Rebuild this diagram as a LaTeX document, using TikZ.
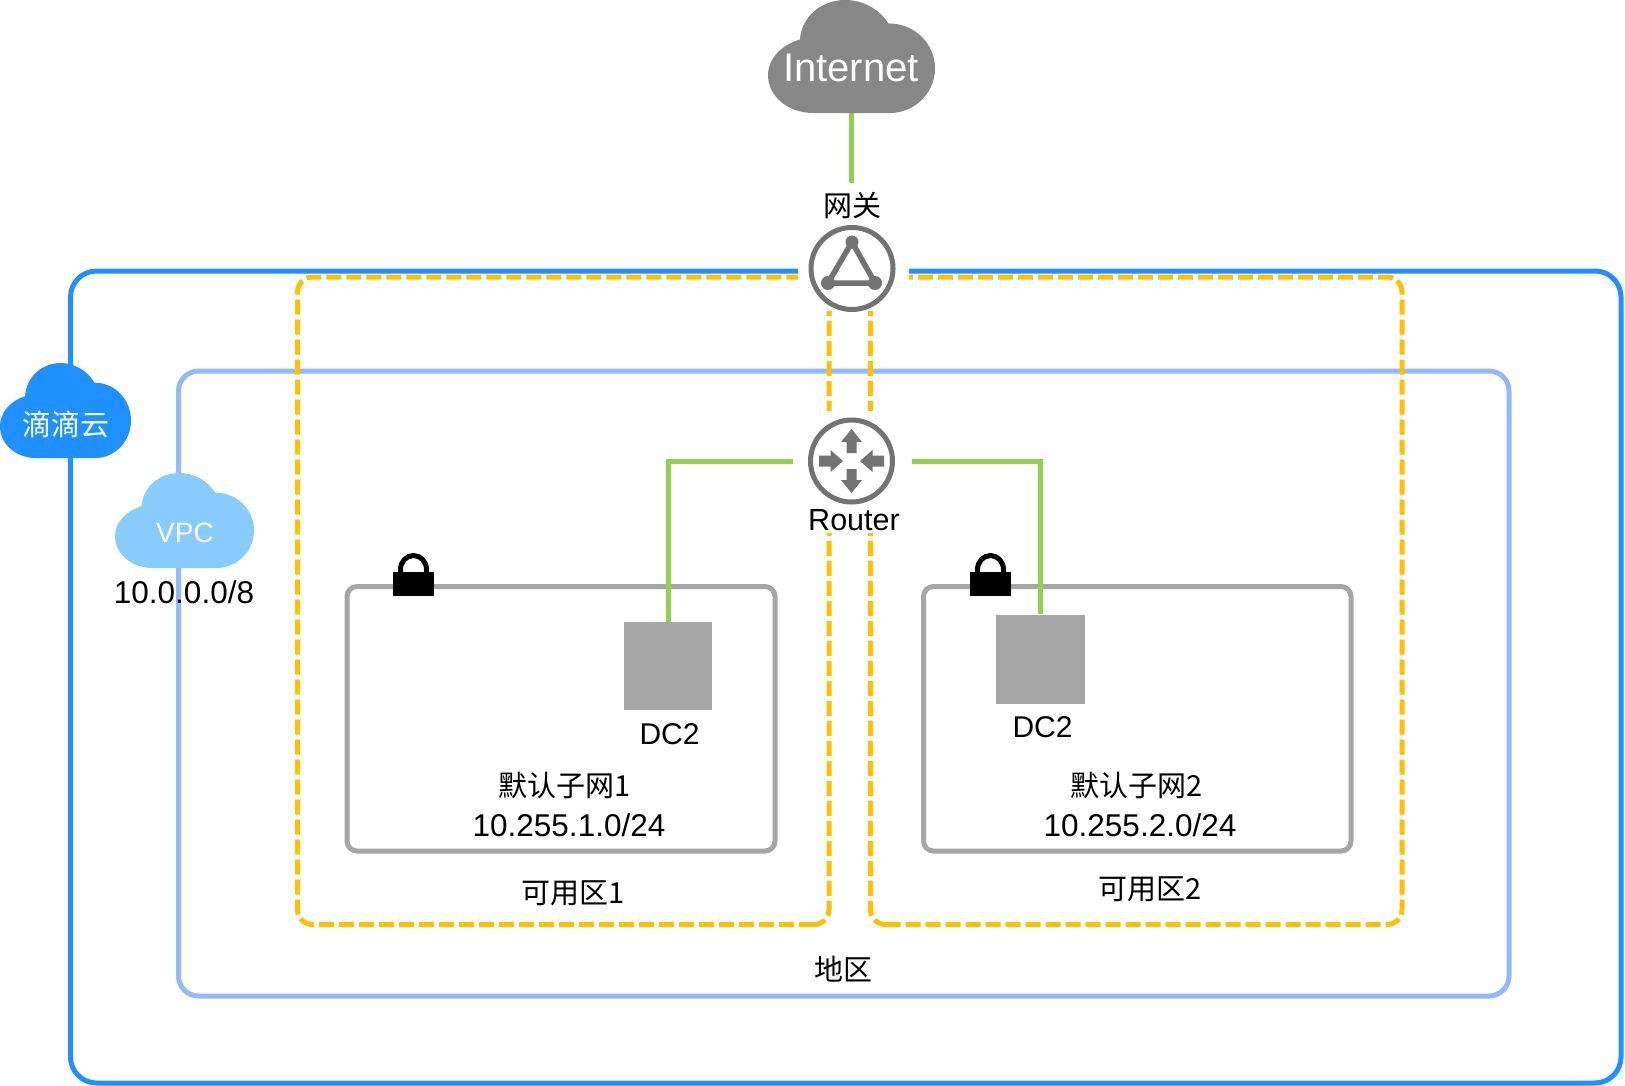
\documentclass[tikz,border=0pt]{standalone}
\usepackage{fontspec}
\setmainfont{Liberation Sans}
\newfontfamily\cjk{Noto Sans CJK SC}
\usetikzlibrary{positioning}
\definecolor{outerblue}{HTML}{1E90FF}
\definecolor{innerblue}{HTML}{91BAF8}
\definecolor{skyblue}{HTML}{88CCFE}
\definecolor{zoneyellow}{HTML}{FFC000}
\definecolor{linkgreen}{HTML}{92D050}
\definecolor{boxgrey}{HTML}{A6A6A6}
\definecolor{icongrey}{HTML}{737373}
\definecolor{cloudgrey}{HTML}{878787}
\newcommand{\cloudpath}{(136,338) -- (366,338) .. controls (440,338) and (501,278) .. (501,205) .. controls (501,130) and (440,70) .. (361,70) .. controls (335,28) and (285,0) .. (232,0) .. controls (160,0) and (100,50) .. (96,118) .. controls (40,135) and (0,175) .. (0,225) .. controls (0,288) and (60,338) .. (136,338) -- cycle}
\newcommand{\cloudat}[6]{\begin{scope}[shift={(#1,#2)},x=#3pt/501,y=-#4pt/338]\fill[#5] \cloudpath;\end{scope}}
\newcommand{\lockat}[1]{\begin{scope}[shift={(#1,0)}]
  \fill[black] (393,572) rectangle (434,596);
  \draw[black,line width=5pt] (400.5,573) -- (400.5,569.5) arc[start angle=180,end angle=0,x radius=13,y radius=-14] -- (426.5,573);
\end{scope}}
\newcommand{\rarrowout}[1]{\fill[icongrey,shift={(851.5,461)},rotate=#1] (0,-32) -- (10.5,-19) -- (5,-19) -- (5,-8) -- (-5,-8) -- (-5,-19) -- (-10.5,-19) -- cycle;}
\newcommand{\rarrowin}[1]{\fill[icongrey,shift={(851.5,461)},rotate=#1] (0,-8.5) -- (11,-21) -- (5.5,-21) -- (5.5,-32.5) -- (-5.5,-32.5) -- (-5.5,-21) -- (-11,-21) -- cycle;}
\tikzset{
  lbl/.style={inner sep=0pt,font=\fontsize{29}{32}\selectfont\cjk,text=black},
  num/.style={inner sep=0pt,font=\fontsize{31.5}{32}\selectfont,text=black},
  zone/.style={draw=zoneyellow,line width=5pt,dash pattern=on 15pt off 5pt,rounded corners=15pt},
  subnet/.style={draw=boxgrey,line width=5pt,rounded corners=10pt},
  link/.style={draw=linkgreen,line width=5pt},
  ring/.style={circle,draw=icongrey,line width=5pt,fill=white,minimum size=82pt,inner sep=0pt},
  server/.style={fill=boxgrey,inner sep=0pt}
}
\begin{document}
\begin{tikzpicture}[x=1pt,y=-1pt]
\useasboundingbox (0,0) rectangle (1625,1085);
\fill[white] (0,0) rectangle (1625,1085);
% outer frames
\draw[outerblue,line width=5pt,rounded corners=26pt] (70.5,271) rectangle (1621,1083);
\draw[innerblue,line width=5pt,rounded corners=20pt] (178.5,371) rectangle (1509,996);
\draw[zone] (829,924.5) -- (297.5,924.5) -- (297.5,277) -- (829,277) -- cycle;
\draw[zone] (870.5,924.5) -- (1402,924.5) -- (1402,277) -- (870.5,277) -- cycle;
% white clearings round the icons
\fill[white] (798,215) rectangle (909,311);
\fill[white] (793,411) rectangle (911,533);
% subnets
\draw[subnet] (347,586.5) rectangle (775,851);
\draw[subnet] (923.5,586.5) rectangle (1351,851);
% servers
\node[server,minimum width=88pt,minimum height=88pt] (dca) at (668,666) {};
\node[server,minimum width=89pt,minimum height=89pt] (dcb) at (1040.5,659) {};
% clouds
\cloudat{768}{0}{167}{113}{cloudgrey}{}
\cloudat{0}{363}{131}{95}{outerblue}{}
\cloudat{115}{473}{139}{95}{skyblue}{}
\node[inner sep=0pt,text=white,font=\fontsize{40}{40}\selectfont] (inet) at (851,68) {Internet};
\node[inner sep=0pt,text=white,font=\fontsize{29}{30}\selectfont\cjk] (didi) at (66.5,424) {滴滴云};
\node[inner sep=0pt,text=white,font=\fontsize{28}{30}\selectfont] (vpc) at (185,533) {VPC};
\node[num] (vpccidr) at (184,592) {10.0.0.0/8};
% gateway
\node[ring] (gw) at (852,268.5) {};
\draw[icongrey,line width=5.5pt,line join=round] (852,242) -- (828,283) -- (875,283) -- cycle;
\fill[icongrey] (852,242) circle (6.5pt) (828,283) circle (7pt) (875,283) circle (7pt);
\node[lbl] (gwlabel) at (852,206) {网关};
% router
\node[ring] (router) at (851.5,461) {};
\rarrowout{0}\rarrowout{180}\rarrowin{90}\rarrowin{270}
\node[num,font=\fontsize{30.5}{32}\selectfont] (routerlabel) at (854,520) {Router};
% connectors
\coordinate (inetB) at (851.5,113);
\coordinate (gwT) at (851.5,183);
\draw[link] (inetB) -- (gwT);
\draw[link,shorten <=15pt] (router.west) -| (dca.north);
\draw[link,shorten <=17pt] (router.east) -| (dcb.north);
% locks
\lockat{0}
\lockat{577}
% labels
\node[num,font=\fontsize{30}{32}\selectfont] (dcalabel) at (669.5,734) {DC2};
\node[num,font=\fontsize{30}{32}\selectfont] (dcblabel) at (1042.5,727) {DC2};
\node[lbl] (s1) at (565,785) {默认子网1};
\node[num] (s1c) at (569,825) {10.255.1.0/24};
\node[lbl] (s2) at (1137,785) {默认子网2};
\node[num] (s2c) at (1140,825) {10.255.2.0/24};
\node[lbl] (z1) at (573,893) {可用区1};
\node[lbl] (z2) at (1150,889) {可用区2};
\node[lbl] (region) at (843.5,969) {地区};
\end{tikzpicture}
\end{document}
